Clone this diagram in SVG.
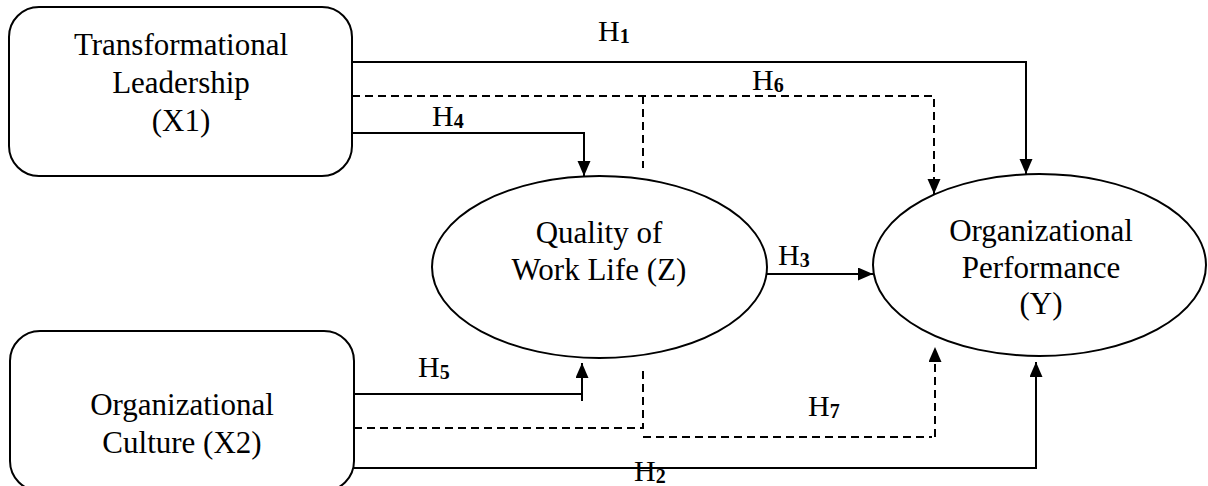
<svg xmlns="http://www.w3.org/2000/svg" width="1208" height="486" viewBox="0 0 1208 486">
<style>
.box{fill:#fff;stroke:#000;stroke-width:2}
.ell{fill:#fff;stroke:#000;stroke-width:2}
.t{font-family:"Liberation Serif","Times New Roman",serif;font-size:31px;fill:#000;text-anchor:middle}
.lbl{font-family:"Liberation Serif","Times New Roman",serif;font-size:30px;fill:#000}
.sub{font-size:20px;font-weight:bold}
.ln{fill:none;stroke:#000;stroke-width:2}
.ds{fill:none;stroke:#000;stroke-width:2;stroke-dasharray:8 5}
</style>
<defs>
<marker id="ah" markerUnits="userSpaceOnUse" markerWidth="16" markerHeight="14" refX="15" refY="6.5" orient="auto">
<path d="M0,0 L15,6.5 L0,13 z" fill="#000" stroke="none"/>
</marker>
</defs>
<rect width="1208" height="486" fill="#fff"/>
<g id="connectors">
<polyline class="ln" points="352,62 1026,62 1026,174" marker-end="url(#ah)"/>
<polyline class="ds" points="352,96 934,96 934,194" marker-end="url(#ah)"/>
<polyline class="ln" points="352,133 584,133 584,176" marker-end="url(#ah)"/>
<line class="ds" x1="643" y1="96" x2="643" y2="168"/>
<line class="ln" x1="767" y1="274" x2="873" y2="274" marker-end="url(#ah)"/>
<line class="ln" x1="354" y1="394" x2="582" y2="394"/>
<line class="ln" x1="582" y1="401" x2="582" y2="363" marker-end="url(#ah)"/>
<polyline class="ds" points="354,428 643,428 643,367"/>
<line class="ds" x1="643" y1="437" x2="932" y2="437"/>
<line class="ds" x1="935" y1="437" x2="935" y2="347" marker-end="url(#ah)"/>
<polyline class="ln" points="354,468 1036,468 1036,362" marker-end="url(#ah)"/>
</g>
<g id="labels">
<text class="lbl" x="598" y="41">H<tspan class="sub" dy="2">1</tspan></text>
<text class="lbl" x="752" y="90">H<tspan class="sub" dy="2">6</tspan></text>
<text class="lbl" x="432" y="126">H<tspan class="sub" dy="2">4</tspan></text>
<text class="lbl" x="778" y="265">H<tspan class="sub" dy="2">3</tspan></text>
<text class="lbl" x="418" y="377">H<tspan class="sub" dy="2">5</tspan></text>
<text class="lbl" x="808" y="416">H<tspan class="sub" dy="2">7</tspan></text>
<text class="lbl" x="634" y="481">H<tspan class="sub" dy="2">2</tspan></text>
</g>
<g id="node-x1">
<rect class="box" x="9" y="7" width="343" height="169" rx="30" ry="30"/>
<text class="t" x="181" y="55">Transformational</text>
<text class="t" x="181" y="93">Leadership</text>
<text class="t" x="181" y="131">(X1)</text>
</g>
<g id="node-x2">
<rect class="box" x="10" y="331" width="344" height="160" rx="30" ry="30"/>
<text class="t" x="182" y="415">Organizational</text>
<text class="t" x="182" y="453">Culture (X2)</text>
</g>
<g id="node-z">
<ellipse class="ell" cx="599.5" cy="267" rx="167.5" ry="91"/>
<text class="t" x="599" y="243">Quality of</text>
<text class="t" x="599" y="280">Work Life (Z)</text>
</g>
<g id="node-y">
<ellipse class="ell" cx="1039.5" cy="265" rx="166.5" ry="91"/>
<text class="t" x="1041" y="241">Organizational</text>
<text class="t" x="1041" y="278">Performance</text>
<text class="t" x="1041" y="314">(Y)</text>
</g>
</svg>
